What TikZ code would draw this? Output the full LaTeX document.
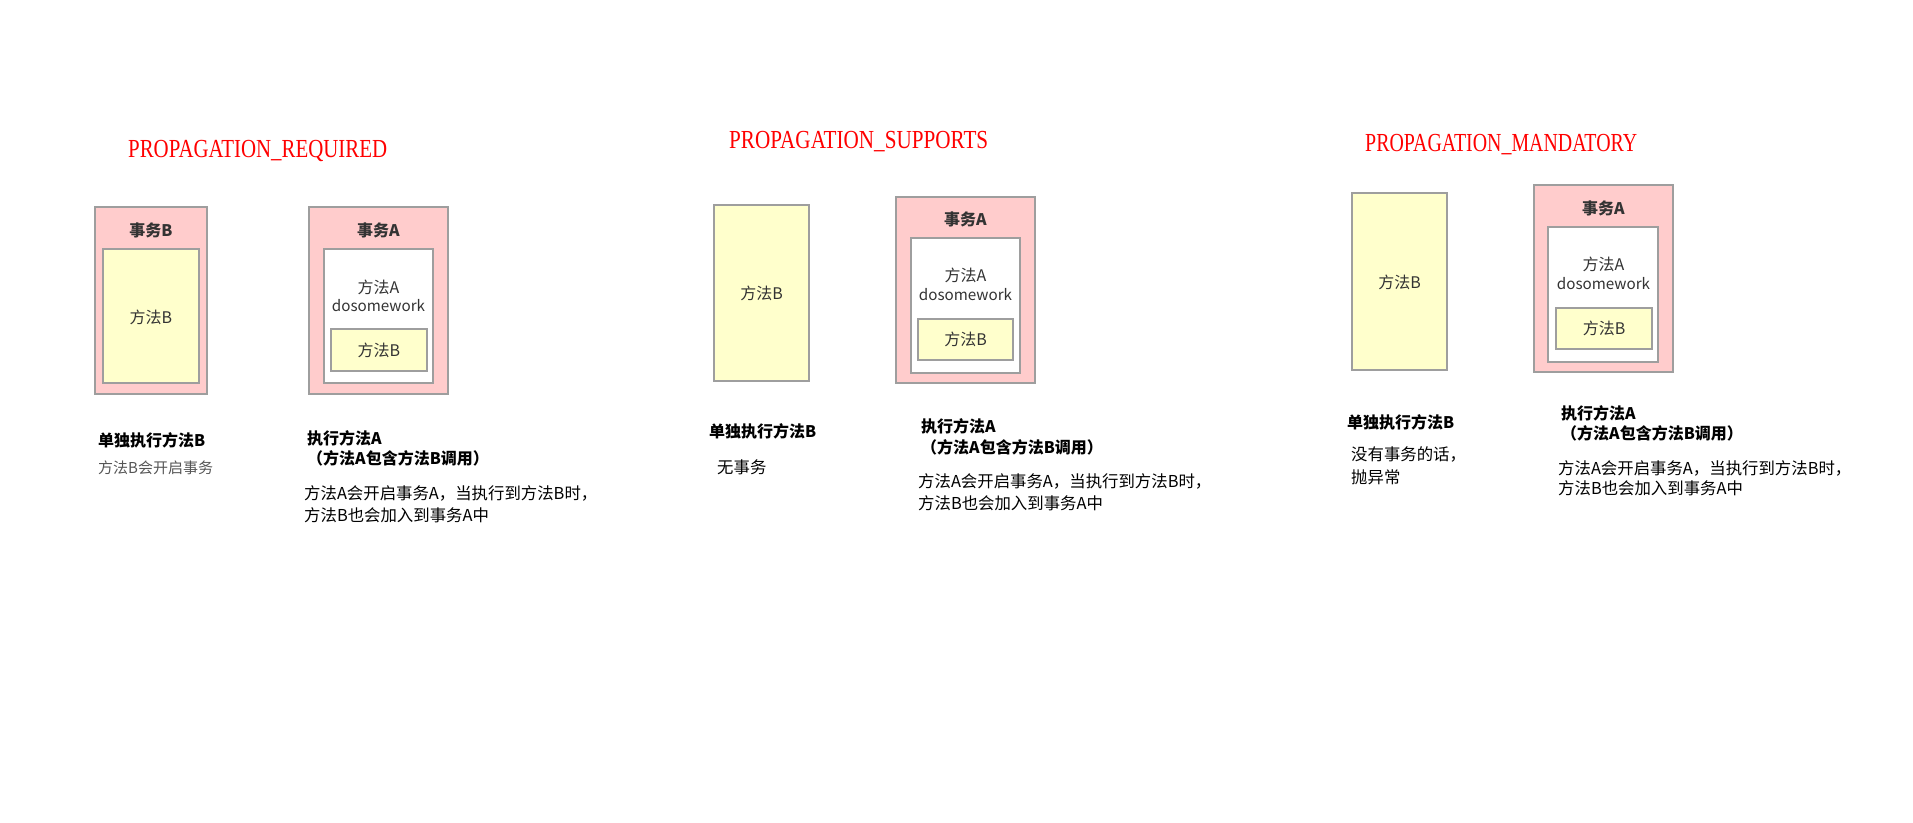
\documentclass[tikz,border=0pt]{standalone}
\usepackage{fontspec}
\usepackage{graphicx}
\setmainfont{Liberation Serif}
\newfontfamily\cjk{Noto Sans CJK SC}
\definecolor{pinkfill}{HTML}{FFCCCC}
\definecolor{yellowfill}{HTML}{FFFFCC}
\definecolor{boxgray}{HTML}{9E9E9E}
\definecolor{textgray}{HTML}{333333}
\definecolor{notegray}{HTML}{555555}
\definecolor{titlered}{HTML}{FF0000}
\tikzset{
  box/.style={draw=boxgray, line width=1.2pt, inner sep=0pt, outer sep=0pt},
  pinkbox/.style={box, fill=pinkfill},
  yellowbox/.style={box, fill=yellowfill},
  whitebox/.style={box, fill=white},
  lbl/.style={font=\cjk\fontsize{16}{19}\selectfont, text=textgray, inner sep=0pt},
  lbld/.style={font=\cjk\fontsize{15.2}{18}\selectfont, text=textgray, inner sep=0pt},
  lblb/.style={font=\cjk\bfseries\fontsize{16}{19}\selectfont, text=textgray, inner sep=0pt},
  ttl/.style={font=\fontsize{26}{30}\selectfont, text=titlered, inner sep=0pt, anchor=base west},
  head/.style={font=\cjk\bfseries\fontsize{16}{19}\selectfont, text=black, inner sep=0pt, anchor=west},
  body/.style={font=\cjk\fontsize{16.4}{19}\selectfont, text=black, inner sep=0pt, anchor=west},
  note/.style={font=\cjk\fontsize{15}{18}\selectfont, text=notegray, inner sep=0pt, anchor=west}
}
\begin{document}
\begin{tikzpicture}[x=1pt,y=-1pt]
\useasboundingbox (0,0) rectangle (1913,822);
\fill[white] (0,0) rectangle (1913,822);

% ---------- Panel 1: PROPAGATION_REQUIRED ----------
\node[ttl] (t1) at (128,157) {\resizebox{259pt}{\height}{PROPAGATION\_REQUIRED}};

\node[pinkbox, minimum width=112pt, minimum height=187pt] (p1sB) at (151,300.5) {};
\node[yellowbox, minimum width=96pt, minimum height=134pt] (p1mB) at (151,316) {};
\node[lblb] (p1sBl) at (151,230) {事务B};
\node[lbl] (p1mBl) at (151,317) {方法B};

\node[pinkbox, minimum width=139pt, minimum height=187pt] (p1sA) at (378.5,300.5) {};
\node[whitebox, minimum width=109pt, minimum height=134pt] (p1mA) at (378.5,316) {};
\node[yellowbox, minimum width=96pt, minimum height=42pt] (p1mAB) at (379,350) {};
\node[lblb] (p1sAl) at (378.5,230) {事务A};
\node[lbl] (p1mAl) at (378.5,287) {方法A};
\node[lbld] (p1mAd) at (378.5,306) {dosomework};
\node[lbl] (p1mABl) at (379,350) {方法B};

\node[head] (p1h1) at (98,440) {单独执行方法B};
\node[note] (p1n1) at (98,468) {方法B会开启事务};
\node[head] (p1h2) at (307,438) {执行方法A};
\node[head] (p1h3) at (307,458) {（方法A包含方法B调用）};
\node[body] (p1b1) at (304,493) {方法A会开启事务A，当执行到方法B时，};
\node[body] (p1b2) at (304,515) {方法B也会加入到事务A中};

% ---------- Panel 2: PROPAGATION_SUPPORTS ----------
\node[ttl] (t2) at (729,148) {\resizebox{259pt}{\height}{PROPAGATION\_SUPPORTS}};

\node[yellowbox, minimum width=95pt, minimum height=176pt] (p2mB) at (761.5,293) {};
\node[lbl] (p2mBl) at (761.5,293) {方法B};

\node[pinkbox, minimum width=139pt, minimum height=186pt] (p2sA) at (965.5,290) {};
\node[whitebox, minimum width=109pt, minimum height=135pt] (p2mA) at (965.5,305.5) {};
\node[yellowbox, minimum width=95pt, minimum height=41pt] (p2mAB) at (965.5,339.5) {};
\node[lblb] (p2sAl) at (965.5,219) {事务A};
\node[lbl] (p2mAl) at (965.5,275) {方法A};
\node[lbld] (p2mAd) at (965.5,295) {dosomework};
\node[lbl] (p2mABl) at (965.5,339) {方法B};

\node[head] (p2h1) at (709,431) {单独执行方法B};
\node[body] (p2n1) at (717,467) {无事务};
\node[head] (p2h2) at (921,426) {执行方法A};
\node[head] (p2h3) at (921,447) {（方法A包含方法B调用）};
\node[body] (p2b1) at (918,481) {方法A会开启事务A，当执行到方法B时，};
\node[body] (p2b2) at (918,503) {方法B也会加入到事务A中};

% ---------- Panel 3: PROPAGATION_MANDATORY ----------
\node[ttl] (t3) at (1365,151) {\resizebox{272pt}{\height}{PROPAGATION\_MANDATORY}};

\node[yellowbox, minimum width=95pt, minimum height=177pt] (p3mB) at (1399.5,281.5) {};
\node[lbl] (p3mBl) at (1399.5,282) {方法B};

\node[pinkbox, minimum width=139pt, minimum height=187pt] (p3sA) at (1603.5,278.5) {};
\node[whitebox, minimum width=110pt, minimum height=135pt] (p3mA) at (1603,294.5) {};
\node[yellowbox, minimum width=96pt, minimum height=41pt] (p3mAB) at (1604,328.5) {};
\node[lblb] (p3sAl) at (1603.5,208) {事务A};
\node[lbl] (p3mAl) at (1603.5,264) {方法A};
\node[lbld] (p3mAd) at (1603.5,284) {dosomework};
\node[lbl] (p3mABl) at (1604,328) {方法B};

\node[head] (p3h1) at (1347,422) {单独执行方法B};
\node[body] (p3n1) at (1351,454) {没有事务的话，};
\node[body] (p3n2) at (1351,477) {抛异常};
\node[head] (p3h2) at (1561,413) {执行方法A};
\node[head] (p3h3) at (1561,433) {（方法A包含方法B调用）};
\node[body] (p3b1) at (1558,468) {方法A会开启事务A，当执行到方法B时，};
\node[body] (p3b2) at (1558,488) {方法B也会加入到事务A中};
\end{tikzpicture}
\end{document}
